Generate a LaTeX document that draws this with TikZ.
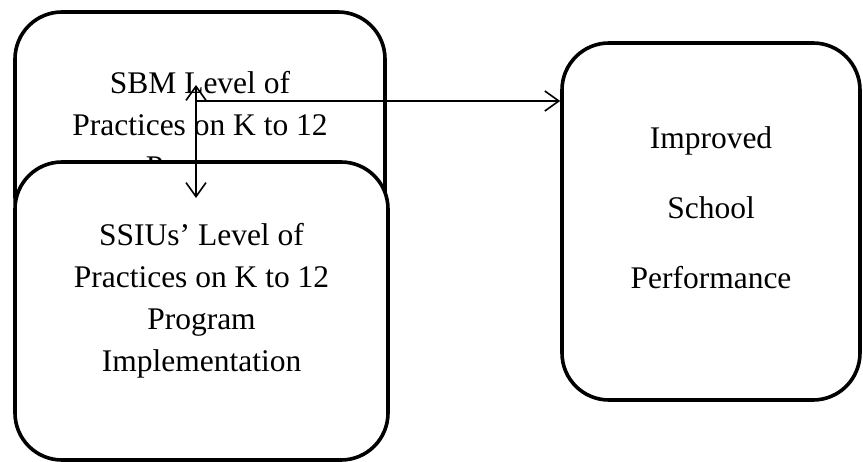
\documentclass[tikz,border=0pt]{standalone}
\usepackage{fontspec}
\setmainfont{Liberation Serif}
\usetikzlibrary{arrows.meta,positioning,calc}

\begin{document}
\begin{tikzpicture}[x=1pt, y=-1pt, >={Straight Barb[length=14pt,width=20pt]}, line width=1.6pt]
\tikzstyle{box}=[draw=black, line width=3.6pt, rounded corners=47pt, fill=white, align=center, font=\fontsize{31.5}{42}\selectfont]
\useasboundingbox (0,0) rectangle (863,462);
\node[box, minimum width=370pt, minimum height=232pt] (1) at (200,128)   {SBM Level of\\Practices on K to 12\\Program};
\node[box, minimum width=373pt, minimum height=298pt, text depth=27pt] (2) at (201.5,311) {SSIUs' Level of\\Practices on K to 12\\Program\\Implementation};
\node[box, minimum width=298pt, minimum height=357pt, text depth=28pt, font=\fontsize{31.5}{70}\selectfont] (3) at (711,221.5) {Improved\\School\\Performance};
\coordinate (up)   at (196,85);
\coordinate (down) at (196,198);
\coordinate (mid)  at (196,101);
\draw[<->] (up) -- (down);
\draw[->]  (mid) -- (mid -| 3.west);
\end{tikzpicture}
\end{document}
